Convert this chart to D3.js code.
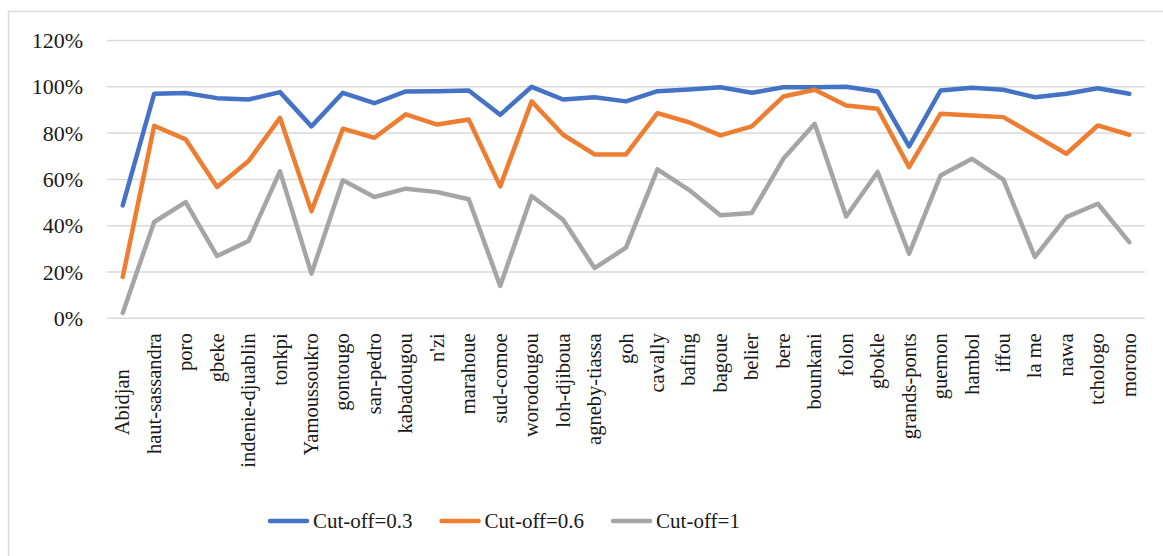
<!DOCTYPE html>
<html>
<head>
<meta charset="utf-8">
<script src="https://cdn.jsdelivr.net/npm/d3@7"></script>
<style>
  html, body { margin: 0; padding: 0; background: #fff; }
  svg { display: block; }
  text { font-family: "Liberation Serif", "DejaVu Serif", serif; fill: #1a1a1a; }
</style>
</head>
<body>
<svg id="chart" width="1163" height="556"></svg>
<script>
const categories = ["Abidjan       ", "haut-sassandra", "poro", "gbeke", "indenie-djuablin", "tonkpi",
  "Yamoussoukro", "gontougo", "san-pedro", "kabadougou", "n'zi", "marahoue", "sud-comoe",
  "worodougou", "loh-djiboua", "agneby-tiassa", "goh", "cavally", "bafing", "bagoue", "belier",
  "bere", "bounkani", "folon", "gbokle", "grands-ponts", "guemon", "hambol", "iffou", "la me",
  "nawa", "tchologo", "morono"];

const cutoff03 = [0.488, 0.970, 0.973, 0.951, 0.945, 0.977, 0.829, 0.974, 0.929, 0.980, 0.981,
  0.984, 0.879, 1.000, 0.945, 0.955, 0.937, 0.981, 0.988, 0.998, 0.974, 0.998, 0.998, 1.000,
  0.980, 0.743, 0.984, 0.996, 0.987, 0.955, 0.970, 0.994, 0.970];
const cutoff06 = [0.178, 0.832, 0.773, 0.567, 0.679, 0.866, 0.463, 0.819, 0.780, 0.881, 0.837,
  0.859, 0.570, 0.937, 0.793, 0.708, 0.708, 0.886, 0.847, 0.790, 0.829, 0.958, 0.987, 0.919,
  0.905, 0.653, 0.884, 0.876, 0.869, 0.790, 0.711, 0.833, 0.793];
const cutoff1 = [0.023, 0.416, 0.502, 0.269, 0.334, 0.635, 0.193, 0.596, 0.524, 0.560, 0.545,
  0.514, 0.140, 0.528, 0.426, 0.217, 0.305, 0.643, 0.555, 0.445, 0.455, 0.689, 0.840, 0.440,
  0.632, 0.279, 0.617, 0.689, 0.599, 0.265, 0.437, 0.495, 0.329];

const seriesNames = ["Cut-off=0.3", "Cut-off=0.6", "Cut-off=1"];
const seriesColors = ["#4472C4", "#ED7D31", "#A5A5A5"];
const yTicks = [0, 0.2, 0.4, 0.6, 0.8, 1.0, 1.2];

const series = [cutoff03, cutoff06, cutoff1].map((vals, i) => ({
  name: seriesNames[i], color: seriesColors[i], values: vals
}));

const svg = d3.select("#chart");
const fontSize = 21;

// chart border
svg.append("rect")
  .attr("x", 8.5).attr("y", 11.5)
  .attr("width", 1170).attr("height", 560)
  .attr("fill", "none").attr("stroke", "#d9d9d9").attr("stroke-width", 1.5);

const plotLeft = 107, plotRight = 1145, plotTop = 40.5, plotBottom = 318.3;

const x = d3.scaleBand().domain(d3.range(categories.length)).range([plotLeft, plotRight]).padding(0);
const y = d3.scaleLinear().domain([0, 1.2]).range([plotBottom, plotTop]);

// gridlines
svg.append("g")
  .selectAll("line").data(yTicks).join("line")
  .attr("x1", plotLeft).attr("x2", plotRight)
  .attr("y1", d => y(d)).attr("y2", d => y(d))
  .attr("stroke", "#d9d9d9").attr("stroke-width", 1.5);

// y axis labels
const yAxis = d3.axisLeft(y).tickValues(yTicks).tickFormat(d3.format(".0%")).tickSize(0).tickPadding(0);
const yG = svg.append("g").attr("transform", `translate(83,0)`).call(yAxis);
yG.select(".domain").remove();
yG.selectAll("text").attr("font-size", 22).attr("font-family", "Liberation Serif").attr("fill", "#1a1a1a");

// x axis labels
const xAxis = d3.axisBottom(x).tickFormat(i => categories[i]).tickSize(0).tickPadding(0);
const xG = svg.append("g").attr("transform", `translate(0,${plotBottom})`).call(xAxis);
xG.select(".domain").remove();
xG.selectAll("text")
  .attr("font-size", 20.5).attr("font-family", "Liberation Serif").attr("fill", "#1a1a1a")
  .style("white-space", "pre")
  .attr("text-anchor", "end")
  .attr("dy", "0.32em")
  .attr("transform", "translate(0,15) rotate(-90)")
  .attr("x", 0).attr("y", 0);

// lines
const line = d3.line()
  .x((d, i) => x(i) + x.bandwidth() / 2)
  .y(d => y(d));

svg.append("g").selectAll("path").data(series).join("path")
  .attr("d", d => line(d.values))
  .attr("fill", "none")
  .attr("stroke", d => d.color)
  .attr("stroke-width", 4.5)
  .attr("stroke-linejoin", "round")
  .attr("stroke-linecap", "round");

// legend
const legend = svg.append("g");
let lx = 268;
const ly = 521;
series.forEach(s => {
  const g = legend.append("g");
  g.append("line")
    .attr("x1", lx + 2).attr("x2", lx + 39)
    .attr("y1", ly).attr("y2", ly)
    .attr("stroke", s.color).attr("stroke-width", 4.5).attr("stroke-linecap", "round");
  const t = g.append("text")
    .attr("x", lx + 45).attr("y", ly)
    .attr("dy", "0.35em")
    .attr("font-size", fontSize)
    .text(s.name);
  const w = t.node().getComputedTextLength();
  lx = lx + 45 + w + 27;
});
</script>
</body>
</html>
